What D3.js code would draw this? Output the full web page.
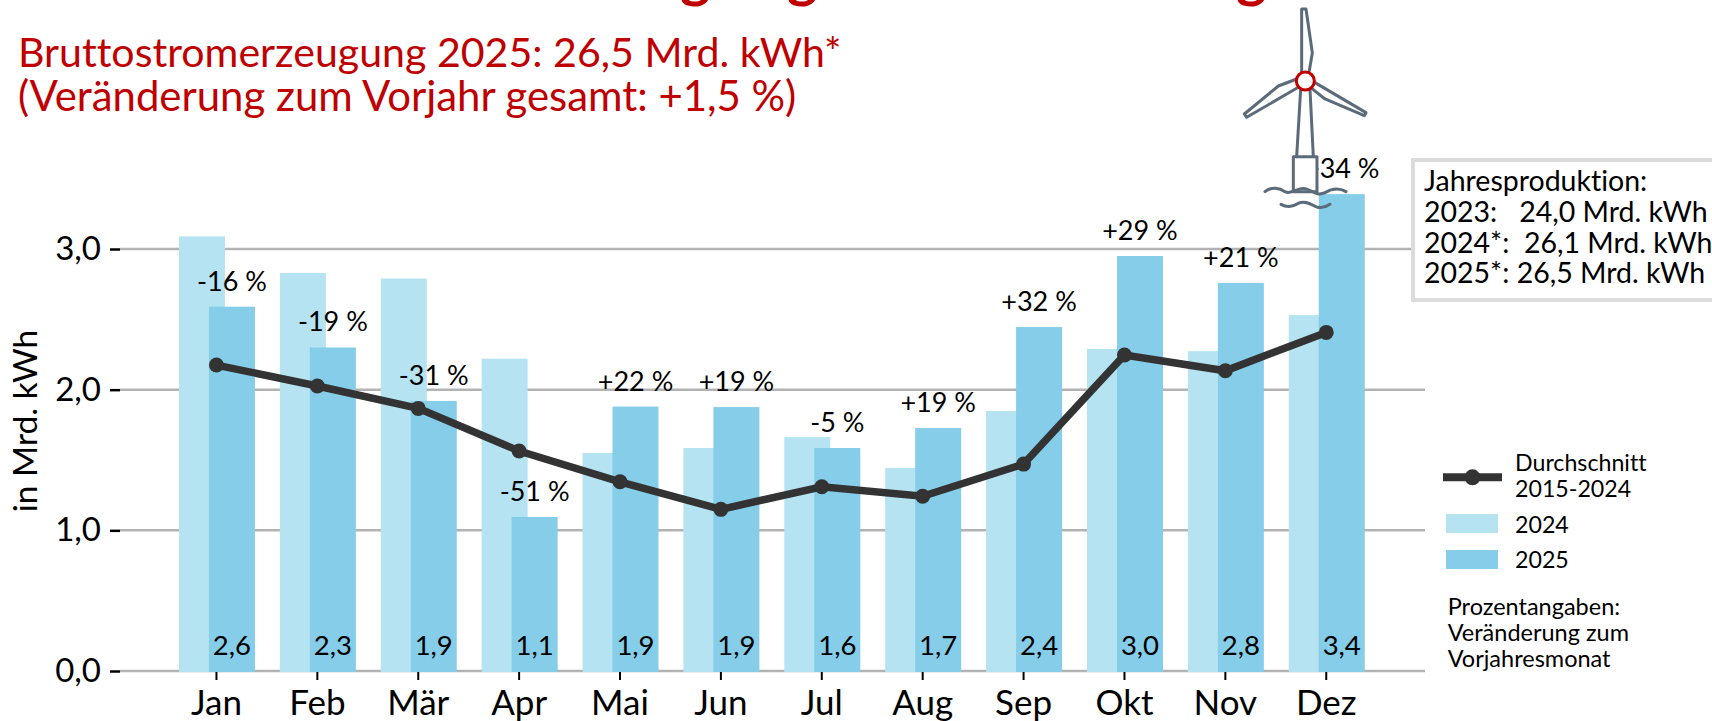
<!DOCTYPE html>
<html>
<head>
<meta charset="utf-8">
<script src="https://cdn.jsdelivr.net/npm/d3@7"></script>
<style>
  html, body { margin: 0; padding: 0; background: #fff; overflow: hidden; }
  text { font-family: Lato, "Open Sans", sans-serif; white-space: pre; font-variant-ligatures: none; }
</style>
</head>
<body>
<div id="chart"></div>
<script>
// values
var months = ["Jan", "Feb", "Mär", "Apr", "Mai", "Jun", "Jul", "Aug", "Sep", "Okt", "Nov", "Dez"];
var values2024 = [3.09, 2.83, 2.79, 2.22, 1.55, 1.585, 1.663, 1.443, 1.848, 2.289, 2.274, 2.53];
var values2025 = [2.59, 2.30, 1.92, 1.095, 1.88, 1.876, 1.585, 1.727, 2.445, 2.95, 2.758, 3.39];
var average = [2.175, 2.026, 1.867, 1.564, 1.345, 1.149, 1.31, 1.242, 1.471, 2.246, 2.134, 2.407];
var valueLabels = ["2,6", "2,3", "1,9", "1,1", "1,9", "1,9", "1,6", "1,7", "2,4", "3,0", "2,8", "3,4"];
var changeLabels = ["-16 %", "-19 %", "-31 %", "-51 %", "+22 %", "+19 %", "-5 %", "+19 %", "+32 %", "+29 %", "+21 %", "+34 %"];
var yTicks = [0, 1, 2, 3];
var boxLines = ["Jahresproduktion:", "2023:   24,0 Mrd. kWh", "2024*:  26,1 Mrd. kWh", "2025*: 26,5 Mrd. kWh"];
var noteLines = ["Prozentangaben:", "Veränderung zum", "Vorjahresmonat"];

var svgWidth = 1712;
var svgHeight = 721;
var red = "#c00000";
var lightBlue = "#b5e3f2";
var blue = "#85cde8";
var dark = "#333333";
var slate = "#5b6b7a";
var gridColor = "#b3b3b3";

var barWidth = 46;

var svg = d3.select("#chart")
  .append("svg")
  .attr("width", svgWidth)
  .attr("height", svgHeight)
  .style("display", "block");

// scales: band centres sit on the month ticks
var xScale = d3.scaleBand()
  .domain(months)
  .range([166, 1376.7]);
var yScale = d3.scaleLinear()
  .domain([0, 3])
  .range([671, 249]);

function center(i) {
  return xScale(months[i]) + xScale.bandwidth() / 2;
}

// top of the cut off headline, only the descenders are left in the frame
var headlineG = [680, 787, 1236];
svg.selectAll(".headline")
  .data(headlineG)
  .enter()
  .append("text")
  .attr("class", "headline")
  .attr("x", d => d)
  .attr("y", -4)
  .attr("fill", red)
  .attr("font-size", 58)
  .attr("font-weight", 700)
  .text("g");

// subtitle
svg.append("text")
  .attr("x", 18).attr("y", 67)
  .attr("fill", red).attr("font-size", 41.1)
  .text("Bruttostromerzeugung 2025: 26,5 Mrd. kWh*");
svg.append("text")
  .attr("x", 18).attr("y", 111)
  .attr("fill", red).attr("font-size", 41.9)
  .text("(Veränderung zum Vorjahr gesamt: +1,5 %)");

// gridlines
svg.selectAll(".grid")
  .data(yTicks)
  .enter()
  .append("line")
  .attr("class", "grid")
  .attr("x1", 120).attr("x2", 1425)
  .attr("y1", d => yScale(d)).attr("y2", d => yScale(d))
  .attr("stroke", gridColor)
  .attr("stroke-width", 2.5);

// axes
var yAxis = svg.append("g")
  .attr("transform", "translate(120,0)")
  .call(d3.axisLeft(yScale)
    .tickValues(yTicks)
    .tickSize(10)
    .tickPadding(9)
    .tickFormat(d => d.toFixed(1).replace(".", ",")));
yAxis.select(".domain").remove();
yAxis.selectAll("line").attr("stroke", "#000").attr("stroke-width", 2.5);
yAxis.selectAll("text").attr("font-size", 33).attr("fill", "#000").attr("font-family", "Lato");

var xAxis = svg.append("g")
  .attr("transform", "translate(0,671)")
  .call(d3.axisBottom(xScale).tickSize(9));
xAxis.select(".domain").remove();
xAxis.selectAll("line").attr("stroke", "#000").attr("stroke-width", 2);
xAxis.selectAll("text")
  .attr("font-size", 35)
  .attr("fill", "#000")
  .attr("font-family", "Lato")
  .attr("y", 44)
  .attr("dy", 0);

svg.append("text")
  .attr("transform", "translate(37,421) rotate(-90)")
  .attr("text-anchor", "middle")
  .attr("font-size", 33.5)
  .text("in Mrd. kWh");

// bars
svg.selectAll(".bar2024")
  .data(values2024)
  .enter()
  .append("rect")
  .attr("class", "bar2024")
  .attr("x", (d, i) => center(i) - 37.5)
  .attr("y", d => yScale(d))
  .attr("width", barWidth)
  .attr("height", d => yScale(0) - yScale(d) + 1)
  .attr("fill", lightBlue);

svg.selectAll(".bar2025")
  .data(values2025)
  .enter()
  .append("rect")
  .attr("class", "bar2025")
  .attr("x", (d, i) => center(i) - 7.5)
  .attr("y", d => yScale(d))
  .attr("width", barWidth)
  .attr("height", d => yScale(0) - yScale(d) + 1)
  .attr("fill", blue);

// average line
var avgLine = d3.line()
  .x((d, i) => center(i))
  .y(d => yScale(d));
svg.append("path")
  .attr("d", avgLine(average))
  .attr("fill", "none")
  .attr("stroke", dark)
  .attr("stroke-width", 7.5);
svg.selectAll(".dot")
  .data(average)
  .enter()
  .append("circle")
  .attr("class", "dot")
  .attr("cx", (d, i) => center(i))
  .attr("cy", d => yScale(d))
  .attr("r", 7.5)
  .attr("fill", dark);

// value labels in the bars and changes above them
svg.selectAll(".val")
  .data(valueLabels)
  .enter()
  .append("text")
  .attr("class", "val")
  .attr("x", (d, i) => center(i) + 15.5)
  .attr("y", 655)
  .attr("text-anchor", "middle")
  .attr("font-size", 27.5)
  .text(d => d);

svg.selectAll(".chg")
  .data(changeLabels)
  .enter()
  .append("text")
  .attr("class", "chg")
  .attr("x", (d, i) => center(i) + 15.5)
  .attr("y", (d, i) => yScale(values2025[i]) - 16)
  .attr("text-anchor", "middle")
  .attr("font-size", 27)
  .text(d => d);

// wind turbine, drawn in 3x units
var turbine = svg.append("g")
  .attr("transform", "translate(1230,0) scale(0.3333)")
  .attr("fill", "none")
  .attr("stroke", slate)
  .attr("stroke-width", 9)
  .attr("stroke-linejoin", "round")
  .attr("stroke-linecap", "round");
turbine.append("rect").attr("x", 190).attr("y", 470).attr("width", 71).attr("height", 105).attr("fill", "#fff");
turbine.append("path").attr("d", "M212 268L200 470M240 268L250 470");
turbine.append("path").attr("d", "M215 215L215 27L228 27L247 158L238 212");
turbine.append("path").attr("d", "M200 237L145 258L43 342L50 352L205 262");
turbine.append("path").attr("d", "M255 248L408 338L403 347L285 297L245 265");
turbine.append("path").attr("d", "M105 575C125 558 150 565 165 575C185 586 205 560 226 566C245 570 260 590 285 578C305 566 325 562 348 575");
turbine.append("path").attr("d", "M153 613C175 625 190 618 205 610C225 600 245 615 260 621C275 625 290 620 300 613");
turbine.append("circle").attr("cx", 226).attr("cy", 243).attr("r", 27).attr("fill", "#fff").attr("stroke", red).attr("stroke-width", 9);

// production box, runs over the right edge
svg.append("rect")
  .attr("x", 1413).attr("y", 160)
  .attr("width", 320).attr("height", 140)
  .attr("fill", "#fff")
  .attr("stroke", "#dcdcdc")
  .attr("stroke-width", 4);
svg.selectAll(".boxline")
  .data(boxLines)
  .enter()
  .append("text")
  .attr("class", "boxline")
  .attr("x", 1424)
  .attr("y", (d, i) => 190.7 + i * 30.9)
  .attr("font-size", 28.5)
  .text(d => d);

// legend
svg.append("line")
  .attr("x1", 1443).attr("x2", 1502)
  .attr("y1", 477.3).attr("y2", 477.3)
  .attr("stroke", dark).attr("stroke-width", 8);
svg.append("circle")
  .attr("cx", 1472.5).attr("cy", 477.3).attr("r", 8)
  .attr("fill", dark);
svg.append("text").attr("x", 1515).attr("y", 471).attr("font-size", 23.2).text("Durchschnitt");
svg.append("text").attr("x", 1515).attr("y", 497.3).attr("font-size", 23.2).text("2015-2024");
svg.append("rect").attr("x", 1446).attr("y", 514).attr("width", 52).attr("height", 19).attr("fill", lightBlue);
svg.append("text").attr("x", 1515).attr("y", 532.7).attr("font-size", 23.2).text("2024");
svg.append("rect").attr("x", 1446).attr("y", 550).attr("width", 52).attr("height", 19).attr("fill", blue);
svg.append("text").attr("x", 1515).attr("y", 568.3).attr("font-size", 23.2).text("2025");

svg.selectAll(".note")
  .data(noteLines)
  .enter()
  .append("text")
  .attr("class", "note")
  .attr("x", 1447.7)
  .attr("y", (d, i) => 615 + i * 25.8)
  .attr("font-size", 23.5)
  .text(d => d);
</script>
</body>
</html>
